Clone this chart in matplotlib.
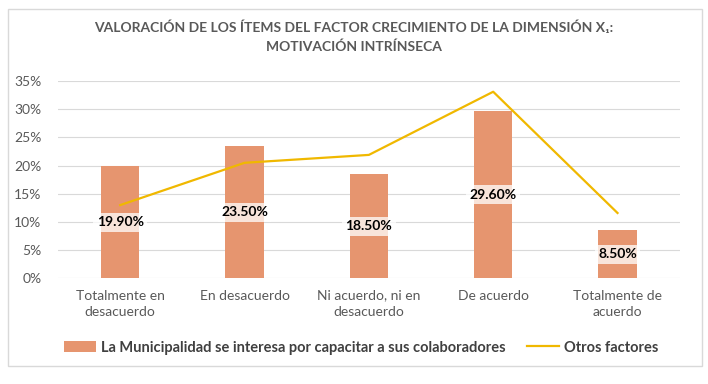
import numpy as np
from matplotlib import pyplot as plt
from matplotlib.patches import Rectangle
from matplotlib.ticker import PercentFormatter

categories = ["Totalmente en\ndesacuerdo", "En desacuerdo", "Ni acuerdo, ni en\ndesacuerdo",
              "De acuerdo", "Totalmente de\nacuerdo"]
capacitar = [19.9, 23.5, 18.5, 29.6, 8.5]
otros = [13.0, 20.5, 21.9, 33.1, 11.6]
yticks = [0, 5, 10, 15, 20, 25, 30, 35]

title = "VALORACIÓN DE LOS ÍTEMS DEL FACTOR CRECIMIENTO DE LA DIMENSIÓN X\u2081:\nMOTIVACIÓN INTRÍNSECA"
bar_label = "La Municipalidad se interesa por capacitar a sus colaboradores"
line_label = "Otros factores"

plt.rcParams['font.family'] = ['Lato', 'DejaVu Sans']

fig = plt.figure(figsize=(7.08, 3.84), dpi=100)
ax = fig.add_axes([0.082, 0.275, 0.878, 0.514])

# chart border
fig.patches.append(Rectangle((0.011, 0.048), 0.980, 0.928, transform=fig.transFigure,
                             fill=False, edgecolor="#d9d9d9", linewidth=1))

x = np.arange(len(categories))
bars = ax.bar(x, capacitar, width=0.31, color="#e6956f", label=bar_label, zorder=2)
line, = ax.plot(x, otros, color="#f0b800", linewidth=1.6, label=line_label, zorder=3)

for xi, v in zip(x, capacitar):
    ax.text(xi, v / 2, "%.2f%%" % v, ha="center", va="center", fontsize=10, fontweight="bold",
            color="black", zorder=4,
            bbox=dict(boxstyle="square,pad=0.25", facecolor="white", edgecolor="none", alpha=0.75))

ax.set_xlim(-0.5, 4.5)
ax.set_ylim(0, 35)
ax.set_yticks(yticks)
ax.yaxis.set_major_formatter(PercentFormatter(decimals=0))
ax.set_xticks(x)
ax.set_xticklabels(categories, linespacing=1.4)
ax.tick_params(axis="both", length=0, labelsize=10, labelcolor="#595959")
ax.tick_params(axis="x", pad=8)
ax.tick_params(axis="y", pad=12)
ax.grid(axis="y", color="#d9d9d9", linewidth=0.8, zorder=0)
for s in ax.spines.values():
    s.set_visible(False)

fig.text(0.5, 0.905, title, ha="center", va="center", fontsize=10, fontweight="bold",
         color="#595959", linespacing=1.6)

leg = fig.legend([bars, line], [bar_label, line_label], loc="center",
                 bbox_to_anchor=(0.51, 0.095), ncol=2, frameon=False,
                 handlelength=2.2, handleheight=0.7, columnspacing=1.5, handletextpad=0.3,
                 prop={"weight": "bold", "size": 10.5})
for t in leg.get_texts():
    t.set_color("#404040")

fig.savefig("out.png", dpi=100)
